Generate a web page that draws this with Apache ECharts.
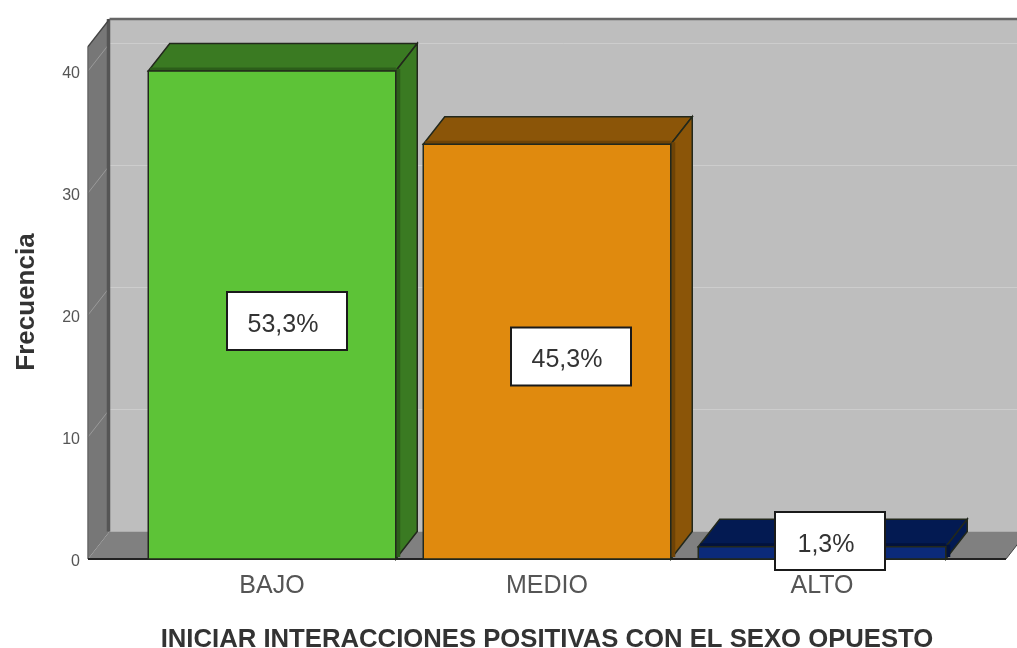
<!DOCTYPE html>
<html>
<head>
<meta charset="utf-8">
<style>
html, body { margin: 0; padding: 0; background: #fff; }
#main { width: 1017px; height: 648px; filter: blur(0.6px); }
</style>
<script src="https://cdn.jsdelivr.net/npm/echarts@6/dist/echarts.min.js"></script>
</head>
<body>
<div id="main"></div>
<script>
var categories = ['BAJO', 'MEDIO', 'ALTO'];
var frecuencia = [40, 34, 1];
var porcentajes = ['53,3%', '45,3%', '1,3%'];
var yTicks = [0, 10, 20, 30, 40];

// fake 3d depth, in pixels
var depthX = 21.5;
var depthY = -27.5;
var wallTop = 42;
var wallGap = 46.5;

var frontColors = ['#5DC337', '#E08A0E', '#0B2A7A'];
var sideColors = ['#3A7A22', '#8B5508', '#031A52'];
var shadeColors = ['#2C5E1A', '#6E4306', '#02123C'];
var boxShiftX = [15, 24, 8];
var boxShiftY = [6, 5, -12];
var boxWidth = [120, 120, 110];

function poly(points, fill, stroke, width) {
    return {
        type: 'polygon',
        shape: { points: points },
        style: { fill: fill, stroke: stroke || null, lineWidth: width || 0 }
    };
}

function line(x1, y1, x2, y2, color, width) {
    return {
        type: 'line',
        shape: { x1: x1, y1: y1, x2: x2, y2: y2 },
        style: { stroke: color, lineWidth: width }
    };
}

function renderWalls(params, api) {
    var cs = params.coordSys;
    var left = cs.x - wallGap;
    var right = cs.x + cs.width + wallGap;
    var y0 = api.coord([0, 0])[1];
    var yT = api.coord([0, wallTop])[1];
    var kids = [
        poly([[left + depthX, yT + depthY], [right + depthX, yT + depthY], [right + depthX, y0 + depthY], [left + depthX, y0 + depthY]], '#BEBEBE'),
        poly([[left, yT], [left + depthX, yT + depthY], [left + depthX, y0 + depthY], [left, y0]], '#777777'),
        poly([[left, y0], [left + depthX, y0 + depthY], [right + depthX, y0 + depthY], [right, y0]], '#808080')
    ];
    for (var i = 1; i < yTicks.length; i++) {
        var y = api.coord([0, yTicks[i]])[1];
        kids.push(line(left + depthX, y + depthY, right + depthX, y + depthY, '#CDCDCD', 1));
        kids.push(line(left, y, left + depthX, y + depthY, '#9A9A9A', 1));
    }
    kids.push(line(left + depthX - 1, yT + depthY, left + depthX - 1, y0 + depthY, '#555555', 3.5));
    kids.push(line(left, yT, left, y0, '#666666', 1.5));
    kids.push(line(left, yT, left + depthX, yT + depthY, '#444444', 1.5));
    kids.push(line(left + depthX, yT + depthY, right + depthX, yT + depthY, '#666666', 2.5));
    kids.push(line(left, y0, right, y0, '#222222', 2));
    kids.push(line(right, y0, right + depthX, y0 + depthY, '#444444', 1));
    return { type: 'group', children: kids };
}

function renderBar(params, api) {
    var i = api.value(0);
    var top = api.coord([i, api.value(1)]);
    var bottom = api.coord([i, 0]);
    var w = api.size([1, 0])[0] * 0.9;
    var x1 = top[0] - w / 2;
    var x2 = top[0] + w / 2;
    var edge = '#22281C';
    return {
        type: 'group',
        children: [
            poly([[x1, top[1]], [x1 + depthX, top[1] + depthY], [x2 + depthX, top[1] + depthY], [x2, top[1]]], sideColors[i], edge, 1.5),
            poly([[x2, top[1]], [x2 + depthX, top[1] + depthY], [x2 + depthX, bottom[1] + depthY], [x2, bottom[1]]], sideColors[i], edge, 1.5),
            // darker strip where the side and top meet the front
            line(x2 + 2.5, top[1] - 2, x2 + 2.5, bottom[1] - 2, shadeColors[i], 4),
            line(x1 + 2, top[1] - 2, x2, top[1] - 2, shadeColors[i], 3),
            poly([[x1, top[1]], [x2, top[1]], [x2, bottom[1]], [x1, bottom[1]]], frontColors[i], edge, 1.5)
        ]
    };
}

function renderBox(params, api) {
    var i = api.value(0);
    var top = api.coord([i, api.value(1)]);
    var bottom = api.coord([i, 0]);
    var cx = top[0] + boxShiftX[i];
    var cy = (top[1] + bottom[1]) / 2 + boxShiftY[i];
    var w = boxWidth[i];
    var h = 58;
    return {
        type: 'group',
        children: [
            {
                type: 'rect',
                shape: { x: cx - w / 2, y: cy - h / 2, width: w, height: h },
                style: { fill: '#FFFFFF', stroke: '#1A1A1A', lineWidth: 2 }
            },
            {
                type: 'text',
                style: {
                    x: cx - 4,
                    y: cy + 4,
                    text: porcentajes[i],
                    fill: '#333333',
                    font: '25px "Liberation Sans"',
                    align: 'center',
                    verticalAlign: 'middle'
                }
            }
        ]
    };
}

var chart = echarts.init(document.getElementById('main'));
var barData = frecuencia.map(function (v, i) { return [i, v]; });

var option = {
    animation: false,
    backgroundColor: '#FFFFFF',
    textStyle: { fontFamily: 'Liberation Sans' },
    grid: { left: 134.5, top: 71, width: 825, height: 488, outerBoundsMode: 'none' },
    xAxis: {
        type: 'category',
        data: categories,
        axisLine: { show: false },
        axisTick: { show: false },
        axisLabel: { color: '#555555', fontSize: 25, margin: 15 },
        name: 'INICIAR INTERACCIONES POSITIVAS CON EL SEXO OPUESTO',
        nameLocation: 'middle',
        nameGap: 68,
        nameTextStyle: { color: '#333333', fontSize: 25.7, fontWeight: 'bold' }
    },
    yAxis: {
        type: 'value',
        min: 0,
        max: 40,
        interval: 10,
        offset: wallGap,
        splitLine: { show: false },
        axisLine: { show: false },
        axisTick: { show: false },
        axisLabel: { color: '#555555', fontSize: 16, margin: 8, verticalAlign: 'top', lineHeight: 6 },
        name: 'Frecuencia',
        nameLocation: 'middle',
        nameGap: 48,
        nameTextStyle: { color: '#333333', fontSize: 26, fontWeight: 'bold', padding: [0, 0, 0, 26] }
    },
    series: [
        { type: 'custom', data: [[0, 0]], renderItem: renderWalls, silent: true, z: 1, clip: false },
        { type: 'custom', data: barData, renderItem: renderBar, silent: true, z: 2, clip: false },
        { type: 'custom', data: barData, renderItem: renderBox, silent: true, z: 3, clip: false }
    ]
};
chart.setOption(option);
</script>
</body>
</html>
